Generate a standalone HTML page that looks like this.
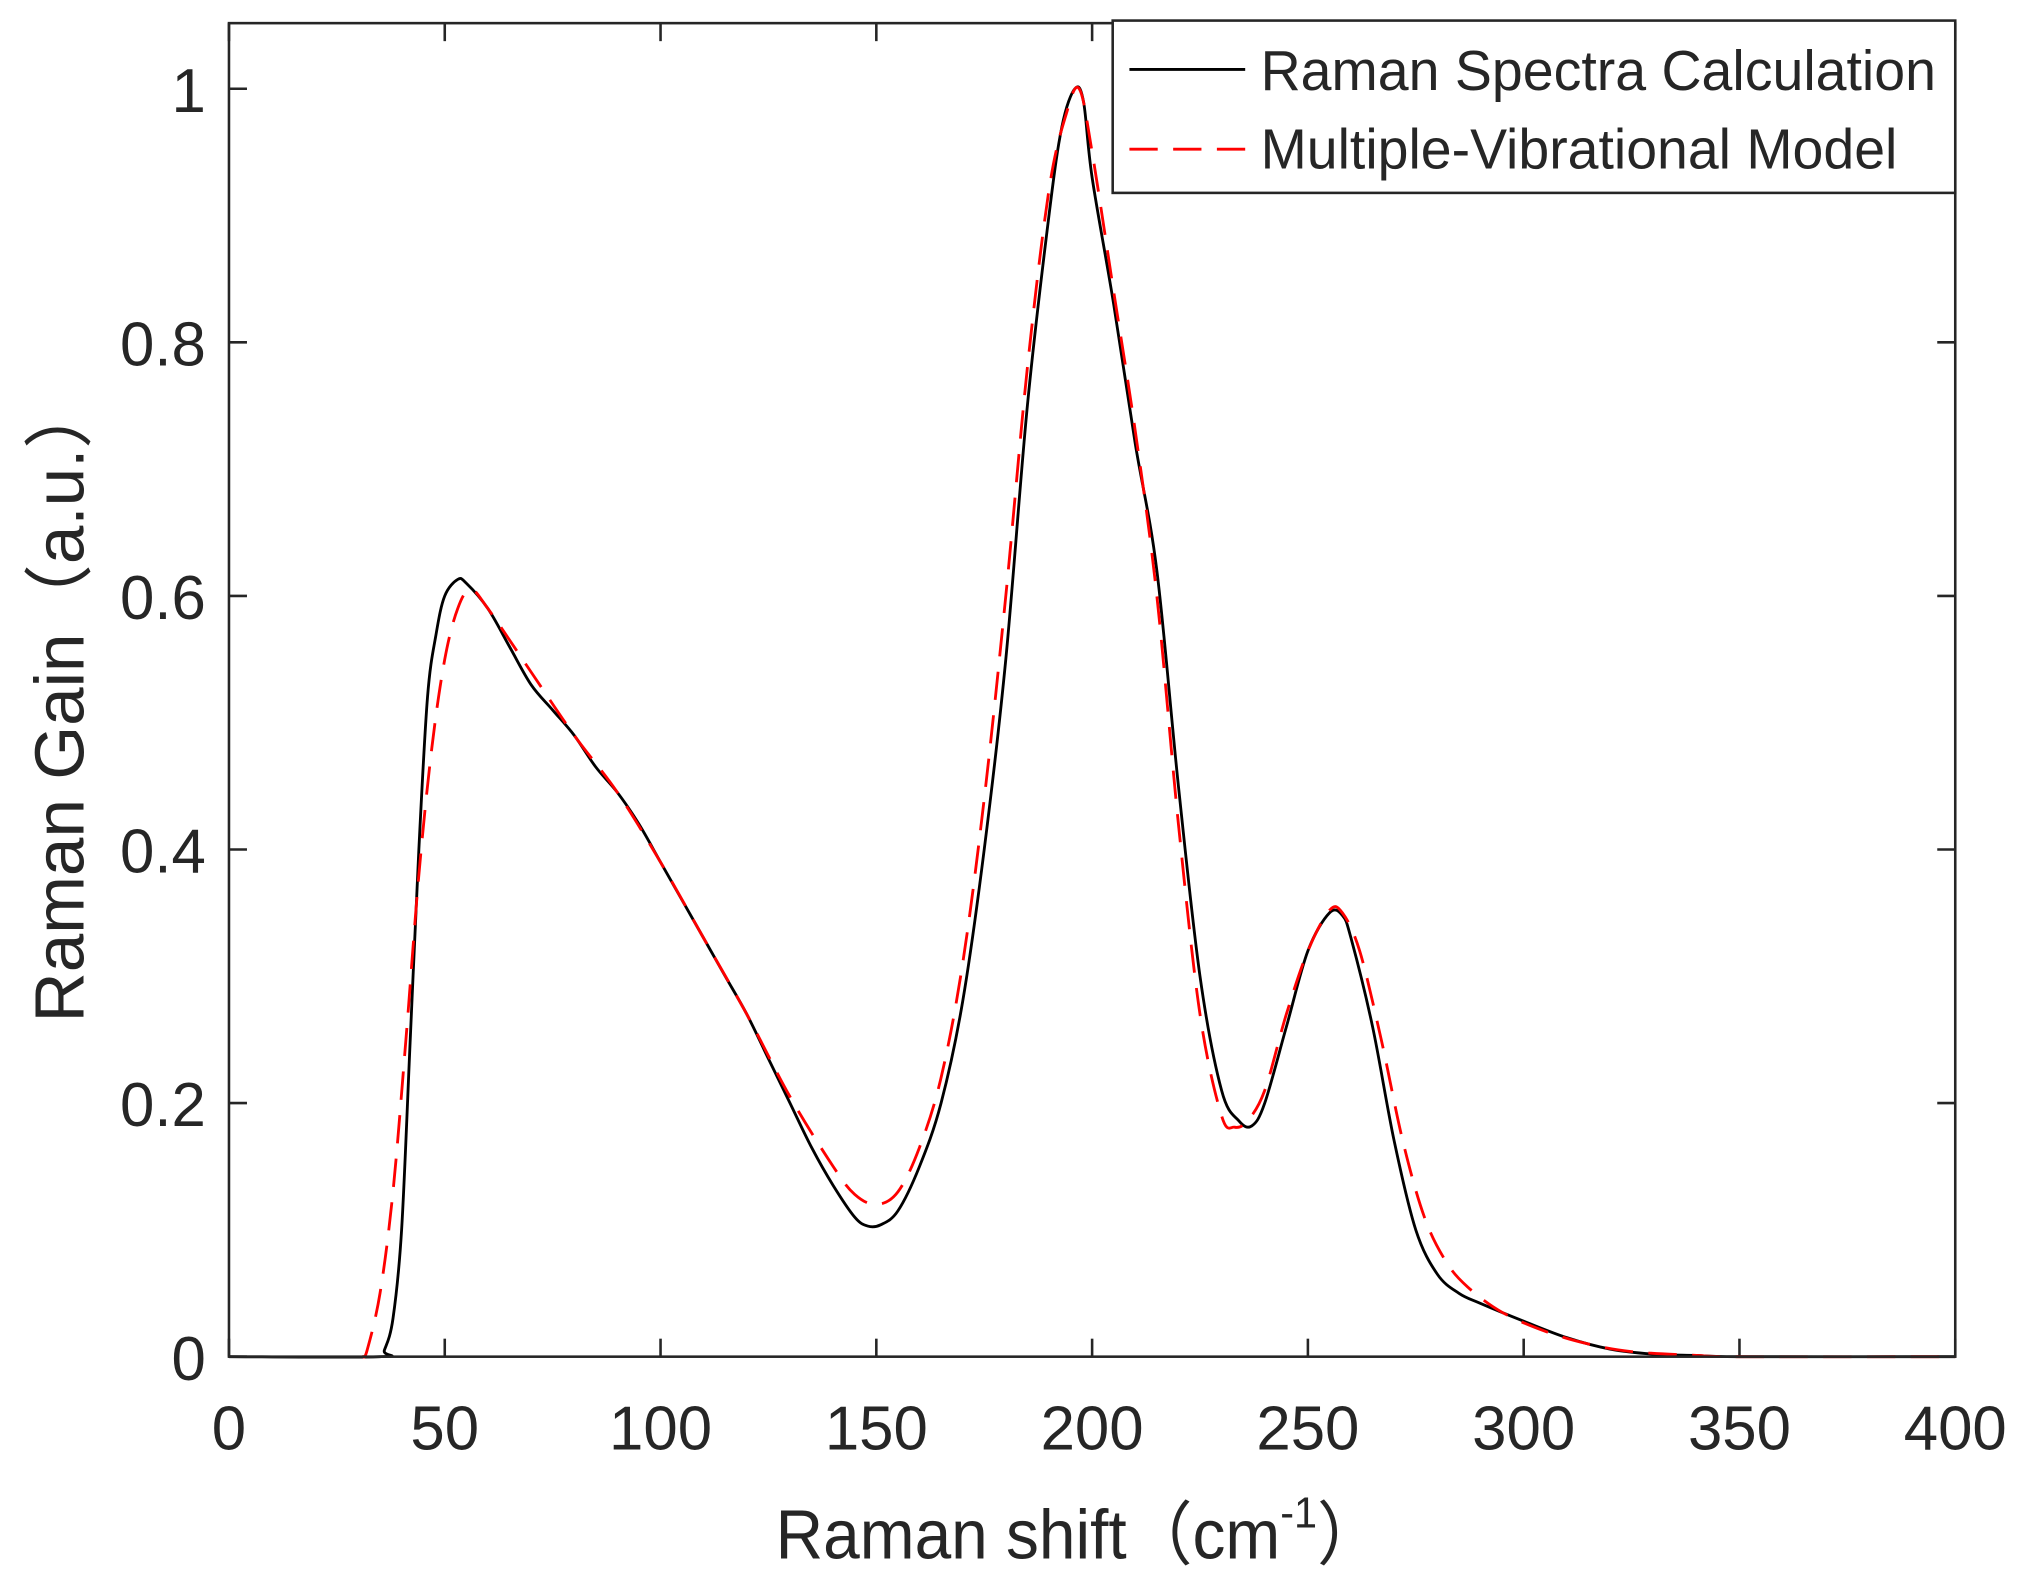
<!DOCTYPE html>
<html><head><meta charset="utf-8"><style>html,body{margin:0;padding:0;background:#fff}svg{display:block}</style></head>
<body>
<svg id="s" width="2017" height="1574" viewBox="0 0 1568 1224" preserveAspectRatio="none" xmlns="http://www.w3.org/2000/svg" font-family="'Liberation Sans', 'Noto Sans CJK SC', sans-serif" fill="#262626">
<rect x="0" y="0" width="1568" height="1224" fill="#fff"/>
<g id="ticks" stroke="#262626" stroke-width="2"></g>
<path id="blk" fill="none" stroke="#000" stroke-width="2.2"/>
<path id="red" fill="none" stroke="#f00" stroke-width="2.2" stroke-dasharray="22,12"/>
<rect x="178" y="18" width="1342" height="1037" fill="none" stroke="#262626" stroke-width="2"/>
<g id="lbl" font-size="48"></g>
<text x="47" y="545" font-size="54" text-anchor="middle" transform="rotate(-90 47 545)" dy="18" textLength="500" lengthAdjust="spacingAndGlyphs">Raman Gain（a.u.）</text>
<text x="603" y="1212" font-size="54" textLength="472" lengthAdjust="spacingAndGlyphs">Raman shift（cm<tspan dy="-24" font-size="34">-1</tspan><tspan dy="24">）</tspan></text>
<rect x="865" y="16" width="655" height="134" fill="#fff" stroke="#262626" stroke-width="2"/>
<line x1="878" y1="54" x2="968" y2="54" stroke="#000" stroke-width="2.2"/>
<line x1="878" y1="116" x2="968" y2="116" stroke="#f00" stroke-width="2.2" stroke-dasharray="22,12"/>
<text x="980" y="70" font-size="44" textLength="525" lengthAdjust="spacingAndGlyphs">Raman Spectra Calculation</text>
<text x="980" y="131" font-size="44" textLength="495" lengthAdjust="spacingAndGlyphs">Multiple-Vibrational Model</text>
</svg>
<script>
const X=v=>178+v*1342/400, Y=v=>1055-v*986;
const b=[[0,0],[35,0],[36,0.005],[38,0.03],[40,0.1],[42,0.25],[44,0.4],[46,0.52],[48,0.57],[50,0.6],[53,0.613],[55,0.61],[60,0.59],[65,0.56],[70,0.53],[75,0.51],[80,0.49],[85,0.465],[90,0.445],[95,0.42],[100,0.39],[105,0.36],[110,0.33],[115,0.3],[120,0.27],[125,0.235],[130,0.2],[135,0.165],[140,0.135],[145,0.11],[148,0.103],[151,0.104],[155,0.115],[160,0.15],[165,0.2],[170,0.28],[175,0.4],[180,0.55],[185,0.75],[190,0.9],[193,0.97],[196,1.0],[198,0.99],[200,0.93],[205,0.83],[210,0.72],[215,0.62],[220,0.45],[225,0.3],[230,0.21],[234,0.186],[237,0.182],[240,0.2],[245,0.26],[250,0.32],[255,0.35],[258,0.348],[260,0.33],[265,0.26],[270,0.17],[275,0.1],[280,0.065],[285,0.05],[290,0.042],[300,0.028],[310,0.015],[320,0.006],[330,0.002],[340,0.001],[350,0],[400,0]];
const r=[[31,0],[32,0.005],[35,0.05],[38,0.13],[41,0.25],[44,0.38],[47,0.48],[50,0.55],[53,0.59],[56,0.605],[60,0.59],[70,0.54],[80,0.49],[90,0.445],[100,0.39],[110,0.33],[120,0.27],[130,0.205],[140,0.15],[145,0.128],[150,0.12],[155,0.13],[160,0.165],[165,0.22],[170,0.31],[175,0.44],[180,0.6],[185,0.78],[190,0.92],[194,0.98],[197,1.0],[200,0.95],[205,0.84],[210,0.73],[215,0.6],[220,0.42],[225,0.27],[230,0.19],[233,0.181],[236,0.186],[240,0.21],[245,0.27],[250,0.32],[255,0.352],[258,0.35],[262,0.32],[267,0.25],[272,0.17],[277,0.11],[282,0.075],[287,0.055],[295,0.035],[305,0.02],[315,0.01],[325,0.004],[340,0.001],[350,0],[400,0]];
function path(p){const q=p.map(a=>[X(a[0]),Y(a[1])]);let d="M"+q[0][0]+","+q[0][1];
for(let i=0;i<q.length-1;i++){const p0=q[Math.max(0,i-1)],p1=q[i],p2=q[i+1],p3=q[Math.min(q.length-1,i+2)];
d+=" C"+(p1[0]+(p2[0]-p0[0])/6)+","+(p1[1]+(p2[1]-p0[1])/6)+" "+(p2[0]-(p3[0]-p1[0])/6)+","+(p2[1]-(p3[1]-p1[1])/6)+" "+p2[0]+","+p2[1];}return d;}
document.getElementById("blk").setAttribute("d",path(b));
document.getElementById("red").setAttribute("d",path(r));
let t="",l="";
for(let v=0;v<=400;v+=50){const x=X(v);t+=`<line x1="${x}" y1="1055" x2="${x}" y2="1041"/><line x1="${x}" y1="18" x2="${x}" y2="32"/>`;l+=`<text x="${x}" y="1127" text-anchor="middle">${v}</text>`;}
for(let k=0;k<=5;k++){const v=k*0.2,y=Y(v);t+=`<line x1="178" y1="${y}" x2="192" y2="${y}"/><line x1="1520" y1="${y}" x2="1506" y2="${y}"/>`;l+=`<text x="160" y="${y+18}" text-anchor="end">${k==0?"0":k==5?"1":v.toFixed(1)}</text>`;}
document.getElementById("ticks").innerHTML=t;document.getElementById("lbl").innerHTML=l;
</script>
</body></html>
